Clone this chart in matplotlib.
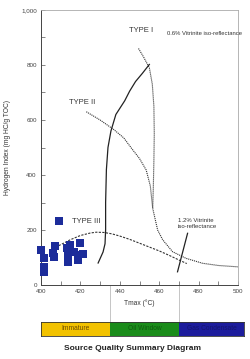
import numpy as np
import matplotlib
matplotlib.use("Agg")
import matplotlib.pyplot as plt

plt.rcParams['font.family'] = ['Liberation Sans', 'DejaVu Sans']

# sample points (Tmax, HI)
tmax = [400, 401.7, 401.7, 401.7, 406.2, 407, 406.6, 413, 414.6, 413.8, 413.8,
        417, 419.7, 418.8, 418.8, 421.4, 409.2]
hi = [127, 97, 64, 49, 115, 143, 103, 133, 145, 109, 85,
      121, 154, 109, 91, 113, 232]

# kerogen type curves
type1_x = [449.5, 452, 455, 456.5, 457.3, 457.5, 457.3, 457, 456.7]
type1_y = [860, 830, 790, 730, 650, 550, 450, 350, 280]
type2_x = [423, 430, 437, 442, 446.6, 450, 453.4, 455.5, 456.7, 459.2, 461.8,
           466.8, 473.6, 482, 490, 500]
type2_y = [630, 600, 565, 535, 491, 460, 418, 360, 279, 200, 164,
           121, 97, 79, 71, 66]
type3_x = [409, 415, 420, 425, 428, 432, 436, 440, 445, 450, 455, 460, 465, 470, 474]
type3_y = [143, 165, 180, 189, 192, 191, 186, 178, 166, 152, 138, 124, 108, 91, 78]

# vitrinite iso-reflectance lines
ro06_x = [455, 451.5, 448, 445, 442.5, 438, 435.5, 434, 433.2, 432.8, 432.8, 432.5, 431.5, 429]
ro06_y = [802, 770, 740, 705, 670, 620, 560, 500, 420, 300, 200, 150, 120, 80]
ro12_x = [474.4, 469.3]
ro12_y = [188, 48]

# maturity bar
zone_names = ["Immature", "Oil Window", "Gas Condensate"]
zone_edges = [400, 435, 470, 503]
zone_colors = ["#f2c200", "#1a8c1a", "#1c1c9c"]
zone_text = ["#6a4a00", "#0f5a0f", "#14146e"]

W, H = 251, 359
fig = plt.figure(figsize=(W / 100, H / 100), dpi=100)
ax = fig.add_axes([41 / W, 1 - 285 / H, 197 / W, 275 / H])

ax.scatter(tmax, hi, marker='s', s=30, color='#1c2c9a', linewidths=0, zorder=3,
           clip_on=False)
ax.plot(type1_x, type1_y, color='#333333', lw=0.8, linestyle=(0, (1, 0.8)))
ax.plot(type2_x, type2_y, color='#333333', lw=0.8, linestyle=(0, (1, 0.8)))
ax.plot(type3_x, type3_y, color='#333333', lw=0.8, linestyle=(0, (2, 1.2)))
ax.plot(ro06_x, ro06_y, color='#222222', lw=0.9)
ax.plot(ro12_x, ro12_y, color='#222222', lw=0.9)

tc = '#333333'
ax.text(451, 927, "TYPE I", fontsize=5.5, color=tc, ha='center', va='center')
ax.text(421, 665, "TYPE II", fontsize=5.5, color=tc, ha='center', va='center')
ax.text(415.5, 232, "TYPE III", fontsize=5.5, color=tc, ha='left', va='center')
ax.text(464, 916, "0.6% Vitrinite iso-reflectance", fontsize=4.2, color=tc,
        ha='left', va='center')
ax.text(469.5, 224, "1.2% Vitrinite\niso-reflectance", fontsize=4.3, color=tc,
        ha='left', va='center', linespacing=1.1)

ax.set_xlim(400, 500)
ax.set_ylim(0, 1000)
ax.set_xticks(np.arange(400, 501, 10))
ax.set_xticklabels([str(v) if v % 20 == 0 else "" for v in range(400, 501, 10)])
ax.set_yticks(np.arange(0, 1001, 100))
ax.set_yticklabels([f"{v:,}" if v % 200 == 0 else "" for v in range(0, 1001, 100)])
ax.tick_params(direction='in', length=3, width=0.5, labelsize=4.5,
               labelcolor='#444444', color='#555555', pad=3)
for s in ['left', 'bottom']:
    ax.spines[s].set_color('#444444')
    ax.spines[s].set_linewidth(0.7)
for s in ['top', 'right']:
    ax.spines[s].set_color('#aaaaaa')
    ax.spines[s].set_linewidth(0.6)
ax.set_xlabel("Tmax (°C)", fontsize=4.8, color='#333333', labelpad=4)
ax.set_ylabel("Hydrogen Index (mg HC/g TOC)", fontsize=4.8, color='#333333', labelpad=7)

# boundary guide lines down to the bar
ax.vlines(zone_edges[1:3], -134, 0, colors='#bbbbbb', lw=0.6, clip_on=False)

bax = fig.add_axes([41 / W, 1 - 336 / H, 203 / W, 14 / H])
for i, name in enumerate(zone_names):
    bax.axvspan(zone_edges[i], zone_edges[i + 1], color=zone_colors[i], lw=0)
    bax.text((zone_edges[i] + zone_edges[i + 1]) / 2, 0.5, name, fontsize=4.8,
             color=zone_text[i], ha='center', va='center')
bax.set_xlim(zone_edges[0], zone_edges[-1])
bax.set_ylim(0, 1)
bax.set_xticks([])
bax.set_yticks([])
for s in bax.spines.values():
    s.set_color('#333333')
    s.set_linewidth(0.6)

fig.text(132.5 / W, 1 - 349 / H, "Source Quality Summary Diagram", fontsize=6,
         fontweight='bold', color='#222222', ha='center', va='center')

fig.savefig("out.png", dpi=100)
